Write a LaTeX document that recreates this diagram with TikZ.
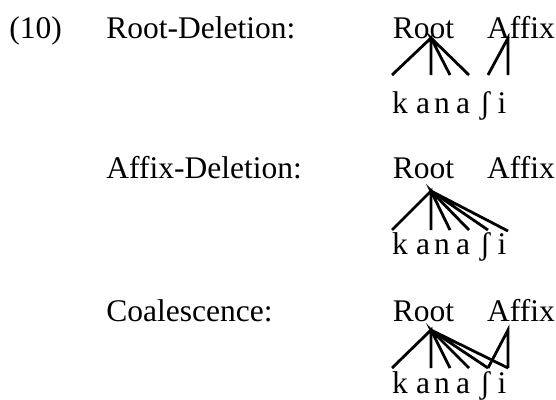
\documentclass[tikz,border=0pt]{standalone}
\usepackage{fontspec}
\setmainfont{Liberation Serif}
\usetikzlibrary{positioning}

\begin{document}
\begin{tikzpicture}[x=1pt,y=-1pt,
line width=2.8pt ,
rule/.style ={anchor=base west ,inner sep=0pt},
tier/.style ={anchor=base ,inner sep=0pt},
seg/.style ={anchor=base ,inner sep=0pt}
]
\useasboundingbox (0,0) rectangle (556,399);
\fontsize{31.5}{36}\selectfont
% labels
\node[rule] (num) at (8,38) {(10)};
\node[rule] (RD) at (105,38) {Root-Deletion:};
\node[rule] (AD) at (105,178) {Affix-Deletion:};
\node[rule] (CO) at (105,321) {Coalescence:};

% Root-Deletion
\node[tier] (RootA) at (423.5,38) {Root};
\node[tier] (AffA) at (521,38) {Affix};
\coordinate (rA) at (431,38);
\coordinate (fA) at (508,38);
\node[seg] (kA) at (400,113) {k};
\node[seg] (aA) at (423,113) {a};
\node[seg] (nA) at (442,113) {n};
\node[seg] (bA) at (463,113) {a};
\node[seg] (shA) at (485,113) {ʃ};
\node[seg] (iA) at (502,113) {i};
\coordinate (kA') at (392,75);
\coordinate (aA') at (431,75);
\coordinate (nA') at (450,75);
\coordinate (bA') at (469,75);
\coordinate (shA') at (488,75);
\coordinate (iA') at (508,75);
\draw (kA') -- (rA) -- (aA');
\draw (nA') -- (rA) -- (bA');
\draw (shA') -- (fA) -- (iA');

% Affix-Deletion
\node[tier] (RootB) at (423.5,178) {Root};
\node[tier] (AffB) at (521,178) {Affix};
\coordinate (rB) at (431,191);
\node[seg] (kB) at (400,254) {k};
\node[seg] (aB) at (423,254) {a};
\node[seg] (nB) at (442,254) {n};
\node[seg] (bB) at (463,254) {a};
\node[seg] (shB) at (485,254) {ʃ};
\node[seg] (iB) at (502,254) {i};
\coordinate (kB') at (392,230);
\coordinate (aB') at (431,230);
\coordinate (nB') at (450,230);
\coordinate (bB') at (469,230);
\coordinate (shB') at (488,230);
\coordinate (iB') at (508,231);
\draw (kB') -- (rB) -- (aB');
\draw (nB') -- (rB) -- (bB');
\draw (shB') -- (rB) -- (iB');

% Coalescence
\node[tier] (RootC) at (423.5,321) {Root};
\node[tier] (AffC) at (521,321) {Affix};
\coordinate (rC) at (431,330);
\coordinate (fC) at (508,330);
\node[seg] (kC) at (400,393) {k};
\node[seg] (aC) at (423,393) {a};
\node[seg] (nC) at (442,393) {n};
\node[seg] (bC) at (463,393) {a};
\node[seg] (shC) at (485,393) {ʃ};
\node[seg] (iC) at (502,393) {i};
\coordinate (kC') at (392,368);
\coordinate (aC') at (431,368);
\coordinate (nC') at (450,368);
\coordinate (bC') at (469,368);
\coordinate (shC') at (488,368);
\coordinate (iC') at (508,368);
\draw (kC') -- (rC) -- (aC');
\draw (nC') -- (rC) -- (bC');
\draw (shC') -- (rC) -- (iC');
\draw (shC') -- (fC) -- (iC');
\end{tikzpicture}
\end{document}
